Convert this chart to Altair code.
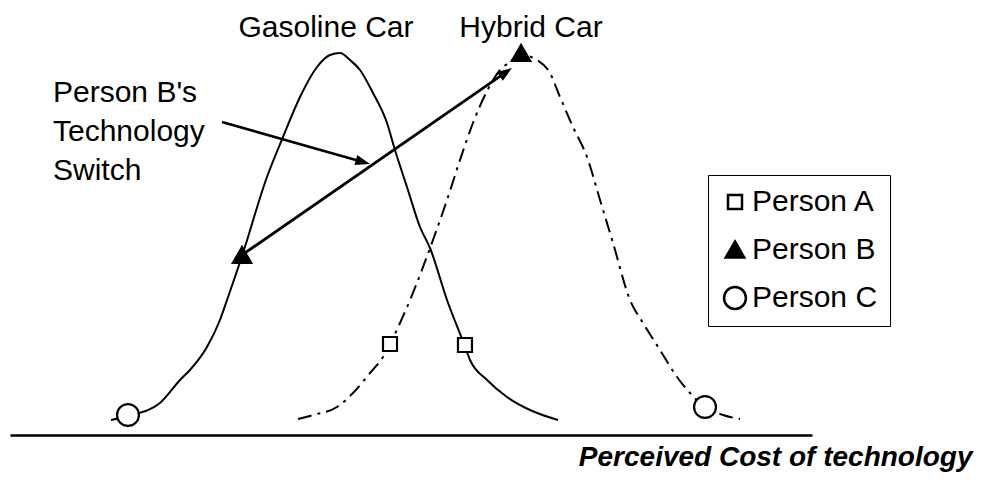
import math
import altair as alt
import pandas as pd

# ---- data (x: perceived cost 0-100, y: share of people 0-100) ----
gas_x = [12.59, 14.71, 18.70, 21.20, 22.44, 24.56, 26.18, 27.06, 28.93, 32.04, 34.04, 36.16,
         38.28, 39.90, 41.15, 42.39, 43.64, 45.26, 47.01, 48.00, 49.50, 51.12, 52.37, 54.49,
         56.61, 57.36, 59.48, 61.97, 64.84, 68.33]
gas_y = [3.75, 4.75, 8.0, 13.75, 16.25, 22.0, 28.75, 33.75, 44.75, 64.5, 74.5, 84.5,
         92.0, 95.0, 95.5, 93.75, 91.25, 85.5, 78.0, 71.25, 62.0, 52.0, 46.75, 33.75,
         22.75, 18.75, 13.75, 9.5, 6.25, 3.75]

hyb_x = [35.91, 37.78, 40.77, 42.77, 44.89, 46.51, 47.38, 48.63, 49.88, 52.74, 54.49, 56.11,
         57.73, 59.48, 61.10, 62.34, 63.72, 65.71, 67.33, 68.58, 70.20, 71.95, 73.57, 75.19,
         77.31, 78.93, 81.05, 83.17, 84.79, 86.66, 88.90, 91.02]
hyb_y = [4.0, 5.0, 7.0, 10.5, 15.5, 19.5, 22.75, 28.0, 33.75, 48.75, 58.75, 68.75,
         78.0, 86.0, 91.25, 93.25, 95.0, 93.75, 90.5, 84.5, 77.0, 69.5, 58.75, 48.0,
         33.75, 28.0, 21.25, 14.5, 10.5, 7.0, 5.0, 4.0]

persons = ["Person A", "Person A", "Person B", "Person B", "Person C", "Person C"]
pt_x = [47.38, 56.73, 28.93, 63.72, 14.71, 86.66]
pt_y = [22.75, 22.5, 45.0, 95.5, 5.0, 7.0]

person_names = ["Person A", "Person B", "Person C"]
person_shapes = ["square", "triangle-up", "circle"]
person_fills = ["white", "black", "white"]
person_strokes = ["black", "black", "black"]
person_sizes = [196, 480, 225]

arrow_x1 = [28.93, 26.43]
arrow_y1 = [45.0, 78.25]
arrow_x2 = [62.59, 44.89]
arrow_y2 = [91.75, 67.75]

car_labels = ["Gasoline Car", "Hybrid Car"]
car_x = [39.4, 64.96]
car_y = [99.5, 99.5]

note_lines = ["Person B's", "Technology", "Switch"]
note_x = [5.36, 5.36, 5.36]
note_y = [83.25, 73.5, 63.75]

x_title = "Perceived Cost of technology"

# ---- layout ----
W, H = 971, 427
X_DOMAIN = [0, 100]
X_RANGE = [2, 804]
Y_DOMAIN = [0, 106.75]
PPX = (X_RANGE[1] - X_RANGE[0]) / (X_DOMAIN[1] - X_DOMAIN[0])
PPY = H / (Y_DOMAIN[1] - Y_DOMAIN[0])
FONT = "Liberation Sans"


def X(field="x"):
    return alt.X(f"{field}:Q",
                 scale=alt.Scale(domain=X_DOMAIN, range=X_RANGE),
                 axis=alt.Axis(title=x_title, domain=True, domainColor="black",
                               domainWidth=2.5, ticks=False, labels=False, grid=False,
                               titleFont=FONT, titleFontSize=28, titleFontWeight="bold",
                               titleFontStyle="italic", titleColor="black",
                               titleAlign="right", titleAnchor="end", titleBaseline="alphabetic",
                               titleX=964, titleY=30))


def Y(field="y"):
    return alt.Y(f"{field}:Q", scale=alt.Scale(domain=Y_DOMAIN), axis=None)


gas_df = pd.DataFrame({"x": gas_x, "y": gas_y})
hyb_df = pd.DataFrame({"x": hyb_x, "y": hyb_y})
pts_df = pd.DataFrame({"x": pt_x, "y": pt_y, "person": persons})

# arrows: line up to the base of the head, head rotated to point along the arrow
HEAD = 12
rows, heads = [], []
for x1, y1, x2, y2 in zip(arrow_x1, arrow_y1, arrow_x2, arrow_y2):
    dx = (x2 - x1) * PPX
    dy = -(y2 - y1) * PPY
    ln = math.hypot(dx, dy)
    bx = x2 - dx / ln * HEAD / PPX
    by = y2 + dy / ln * HEAD / PPY
    ang = (math.degrees(math.atan2(dy, dx)) + 90) % 360
    rows.append({"x": x1, "y": y1, "x2": bx, "y2": by})
    heads.append({"x": x2, "y": y2, "angle": ang})
arr_df = pd.DataFrame(rows)
head_df = pd.DataFrame(heads)

car_df = pd.DataFrame({"x": car_x, "y": car_y, "t": car_labels})
note_df = pd.DataFrame({"x": note_x, "y": note_y, "t": note_lines})

gas = alt.Chart(gas_df).mark_line(color="black", strokeWidth=2, interpolate="monotone").encode(x=X(), y=Y())
hyb = alt.Chart(hyb_df).mark_line(color="black", strokeWidth=2, interpolate="monotone",
                                  strokeDash=[14, 6, 3, 6]).encode(x=X(), y=Y())

arrows = alt.Chart(arr_df).mark_rule(color="black", strokeWidth=2.8).encode(
    x=X(), y=Y(), x2="x2:Q", y2="y2:Q")
heads_l = alt.Chart(head_df).mark_point(
    shape="M0,0L0.6,1.7L-0.6,1.7Z", filled=True, color="black", size=300, opacity=1
).encode(x=X(), y=Y(), angle=alt.Angle("angle:Q", scale=None))

leg = alt.Legend(title=None, orient="none", legendX=700, legendY=167, strokeColor="black",
                 fillColor="white", padding=12, labelFont=FONT, labelFontSize=30,
                 labelColor="black", rowPadding=17.5, labelOffset=2,
                 symbolStrokeColor="black", symbolStrokeWidth=2.5, symbolOpacity=1)

points = alt.Chart(pts_df).mark_point(filled=True, strokeWidth=2.2, opacity=1).encode(
    x=X(), y=Y(),
    shape=alt.Shape("person:N", scale=alt.Scale(domain=person_names, range=person_shapes), legend=leg),
    fill=alt.Fill("person:N", scale=alt.Scale(domain=person_names, range=person_fills), legend=leg),
    stroke=alt.Stroke("person:N", scale=alt.Scale(domain=person_names, range=person_strokes), legend=leg),
    size=alt.Size("person:N", scale=alt.Scale(domain=person_names, range=person_sizes), legend=leg),
)

cars = alt.Chart(car_df).mark_text(font=FONT, fontSize=30, color="black", align="center",
                                   baseline="alphabetic").encode(x=X(), y=Y(), text="t:N")
note = alt.Chart(note_df).mark_text(font=FONT, fontSize=30, color="black", align="left",
                                    baseline="alphabetic").encode(x=X(), y=Y(), text="t:N")

chart = alt.layer(gas, hyb, arrows, heads_l, points, cars, note).properties(
    width=W, height=H, autosize="none",
    padding={"left": 0, "top": 0, "right": 0, "bottom": 39},
    background="white",
).configure_view(stroke=None)

chart.save("out.html", embed_options={"renderer": "svg", "actions": False})
